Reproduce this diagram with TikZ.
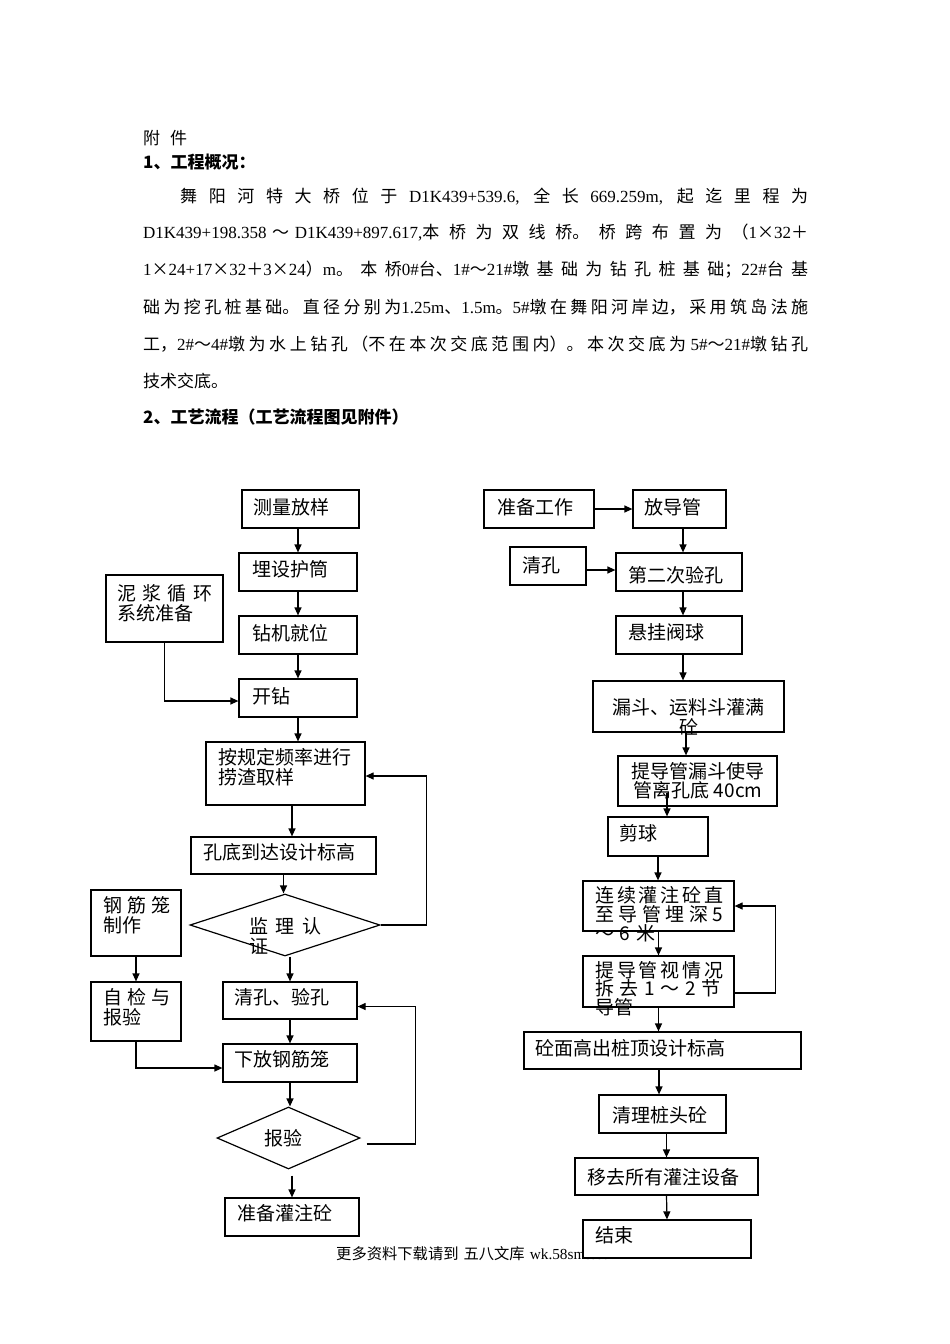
\documentclass[tikz,border=0pt]{standalone}
\usepackage{fontspec}
\setmainfont{Noto Sans CJK SC}
\newfontfamily\serifnt{Liberation Serif}
\usetikzlibrary{arrows.meta,shapes.geometric,calc}
\XeTeXlinebreaklocale "zh"
\XeTeXlinebreakskip=0pt plus 10pt
\newcommand{\lat}[1]{{\serifnt\fontsize{17}{17}\selectfont #1}}
\newcommand{\jl}[2]{\parbox{#1}{\tolerance=9999\parfillskip=0pt\relax #2}}
\begin{document}
\begin{tikzpicture}[x=1pt,y=-1pt,
 box/.style={draw, line width=1.2pt, fill=white, inner sep=0pt, rectangle},
 dbox/.style={draw, line width=1.2pt, fill=white, inner sep=0pt, diamond},
 arr/.style={line width=1.2pt, -{Triangle[length=8pt,width=7pt]}},
 txt/.style={inner sep=0pt, anchor=west, align=left, font=\fontsize{19}{20}\selectfont},
 ctxt/.style={inner sep=0pt, anchor=center, align=center, font=\fontsize{19}{20}\selectfont},
 para/.style={inner sep=0pt, anchor=west, font=\fontsize{17}{17}\selectfont},
 head/.style={inner sep=0pt, anchor=west, font=\fontsize{17}{17}\selectfont\bfseries}
]
\fill[white] (0,0) rectangle (950,1344);
\path[use as bounding box] (0,0) rectangle (950,1344);

% ---------- header text ----------
\node[para] (p0) at (143,138) {\makebox[44pt][s]{附 件}};
\node[head] (p1) at (143,162) {1、工程概况：};
\node[para] (p2) at (180,197) {\jl{628pt}{舞 阳 河 特 大 桥 位 于 \lat{D1K439+539.6,} 全 长 \lat{669.259m,} 起 迄 里 程 为}};
\node[para] (p3) at (143,233) {\jl{665pt}{\lat{D1K439+198.358} ～ \lat{D1K439+897.617,}本桥为双线桥。桥跨布置为（\lat{1}×\lat{32}＋}};
\node[para] (p4) at (143,270) {\jl{665pt}{\lat{1}×\lat{24+17}×\lat{32}＋\lat{3}×\lat{24}）\lat{m}。本桥\lat{0\#}台、\lat{1\#}～\lat{21\#}墩基础为钻孔桩基础；\lat{22\#}台基}};
\node[para] (p5) at (143,307) {\jl{665pt}{础为挖孔桩基础。直径分别为\lat{1.25m}、\lat{1.5m}。\lat{5\#}墩在舞阳河岸边，采用筑岛法施}};
\node[para] (p6) at (143,344) {\jl{665pt}{工，\lat{2\#}～\lat{4\#}墩为水上钻孔（不在本次交底范围内）。本次交底为 \lat{5\#}～\lat{21\#}墩钻孔}};
\node[para] (p7) at (143,381) {技术交底。};
\node[head] (p8) at (143,417) {2、工艺流程（工艺流程图见附件）};

% ---------- footer (partly covered by the last box) ----------
\node[inner sep=0pt, anchor=west, font=\fontsize{15.3}{16}\selectfont] (foot) at (336,1253.5)
  {更多资料下载请到\hspace{5pt}五八文库\hspace{5pt}{\serifnt wk.58sms.com}};

% ---------- left column boxes ----------
\node[box, minimum width=117pt, minimum height=38pt] (L1) at (300.5,509) {};
\node[box, minimum width=118pt, minimum height=38pt] (L2) at (298,572) {};
\node[box, minimum width=118pt, minimum height=38pt] (L3) at (298,635) {};
\node[box, minimum width=118pt, minimum height=38pt] (L4) at (298,698) {};
\node[box, minimum width=117pt, minimum height=67pt] (LM) at (164.5,608.5) {};
\node[box, minimum width=159pt, minimum height=63pt] (L5) at (285.5,773.5) {};
\node[box, minimum width=185pt, minimum height=37pt] (L6) at (283.5,855.5) {};
\node[dbox, minimum width=190pt, minimum height=62pt] (D1) at (285,925) {};
\node[box, minimum width=90pt, minimum height=66pt] (LG) at (136,923) {};
\node[box, minimum width=90pt, minimum height=59pt] (LZ) at (136,1011.5) {};
\node[box, minimum width=134pt, minimum height=37pt] (L7) at (290,1000.5) {};
\node[box, minimum width=134pt, minimum height=38pt] (L8) at (290,1063) {};
\node[dbox, minimum width=143pt, minimum height=62pt] (D2) at (288.5,1138) {};
\node[box, minimum width=134pt, minimum height=38pt] (L9) at (292,1217) {};

% ---------- right column boxes ----------
\node[box, minimum width=110pt, minimum height=38pt] (R1) at (539,509) {};
\node[box, minimum width=93pt, minimum height=38pt] (R2) at (679.5,509) {};
\node[box, minimum width=76pt, minimum height=38pt] (RQ) at (548,566) {};
\node[box, minimum width=126pt, minimum height=38pt] (R3) at (679,572) {};
\node[box, minimum width=126pt, minimum height=38pt] (R4) at (679,635) {};
\node[box, minimum width=191pt, minimum height=51pt] (R5) at (688.5,706.5) {};
\node[box, minimum width=159pt, minimum height=50pt] (R6) at (697.5,781) {};
\node[box, minimum width=100pt, minimum height=39pt] (R7) at (658,836.5) {};
\node[box, minimum width=151pt, minimum height=50pt] (R8) at (658.5,906) {};
\node[box, minimum width=151pt, minimum height=51pt] (R9) at (658.5,981.5) {};
\node[box, minimum width=277pt, minimum height=37pt] (R10) at (662.5,1050.5) {};
\node[box, minimum width=127pt, minimum height=38pt] (R11) at (662.5,1114) {};
\node[box, minimum width=183pt, minimum height=37pt] (R12) at (666.5,1176.5) {};
\node[box, minimum width=168pt, minimum height=38pt] (R13) at (667,1239) {};

% ---------- left connectors ----------
\draw[arr] (L1.south -| L2.north) -- (L2.north);
\draw[arr] (L2.south) -- (L3.north);
\draw[arr] (L3.south) -- (L4.north);
\draw[arr] (LM.south) |- ($(L4.west)+(0,3)$);
\draw[arr] (L4.south) -- (L4.south |- L5.north);
\draw[arr] ($(L5.south)+(6.5,0)$) -- ($(L5.south |- L6.north)+(6.5,0)$);
\draw[arr] (L6.south) -- (L6.south |- D1.north);
\draw[arr] (D1.east) -- ++(45.5,0) |- ($(L5.east)+(0,2.5)$);
\draw[arr] (L7.north |- D1.south) -- (L7.north);
\draw[arr] (LG.south) -- (LZ.north);
\draw[arr] (LZ.south) |- ($(L8.west)+(0,5)$);
\draw[arr] (L7.south) -- (L8.north);
\draw[arr] (L8.south) -- (L8.south |- D2.north);
\draw[arr] ($(D2.east)+(6,6)$) -- ++(49,0) |- ($(L7.east)+(0,6)$);
\draw[arr] ($(L9.north |- D2.south)+(0,6)$) -- (L9.north);

% ---------- right connectors ----------
\draw[arr] (R1.east) -- (R2.west);
\draw[arr] ($(R2.south)+(3.5,0)$) -- ($(R2.south |- R3.north)+(3.5,0)$);
\draw[arr] ($(RQ.east)+(0,4)$) -- ($(RQ.east -| R3.west)+(0,4)$);
\draw[arr] ($(R3.south)+(4,0)$) -- ($(R3.south |- R4.north)+(4,0)$);
\draw[arr] ($(R4.south)+(4,0)$) -- ($(R4.south |- R5.north)+(4,0)$);
\draw[arr] ($(R5.south)+(-2.5,0)$) -- ($(R5.south |- R6.north)+(-2.5,0)$);
\draw[arr, shorten <=-14pt] ($(R7.north |- R6.south)+(9,0)$) -- ($(R7.north)+(9,0)$);
\draw[arr] (R7.south) -- (R7.south |- R8.north);
\draw[arr] (R8.south) -- (R9.north);
\draw[arr] ($(R9.east)+(0,11.5)$) -- ++(41,0) |- (R8.east);
\draw[arr] (R9.south) -- (R9.south |- R10.north);
\draw[arr] ($(R10.south)+(-3.5,0)$) -- ($(R10.south |- R11.north)+(-3.5,0)$);
\draw[arr] (R12.north |- R11.south) -- (R12.north);
\draw[arr] (R12.south) -- (R13.north);

% ---------- left texts ----------
\node[txt] (tL1) at (253,507) {测量放样};
\node[txt] (tL2) at (252,569) {埋设护筒};
\node[txt] (tL3) at (252,633) {钻机就位};
\node[txt] (tL4) at (252,696) {开钻};
\node[txt] (tLM) at (117,603) {\makebox[95pt][s]{泥 浆 循 环}\\系统准备};
\node[txt] (tL5) at (218,767) {按规定频率进行\\捞渣取样};
\node[txt] (tL6) at (203,852) {孔底到达设计标高};
\node[txt] (tD1) at (249,936) {\makebox[72pt][s]{监 理 认}\\证};
\node[txt] (tLG) at (103,915.5) {\makebox[67pt][s]{钢 筋 笼}\\制作};
\node[txt] (tLZ) at (103,1007) {\makebox[67pt][s]{自 检 与}\\报验};
\node[txt] (tL7) at (234,997) {清孔、验孔};
\node[txt] (tL8) at (234,1059) {下放钢筋笼};
\node[txt] (tD2) at (264,1138) {报验};
\node[txt] (tL9) at (237,1213) {准备灌注砼};

% ---------- right texts ----------
\node[txt] (tR1) at (497,507) {准备工作};
\node[txt] (tR2) at (644,507) {放导管};
\node[txt] (tRQ) at (522,565) {清孔};
\node[txt] (tR3) at (628,575) {第二次验孔};
\node[txt] (tR4) at (628,632) {悬挂阀球};
\node[ctxt] (tR5) at (688.5,717) {漏斗、运料斗灌满\\砼};
\node[ctxt, font=\fontsize{19}{19}\selectfont] (tR6) at (698,780.5) {提导管漏斗使导\\管离孔底 40cm};
\node[txt] (tR7) at (619,833) {剪球};
\node[txt, font=\fontsize{19}{19}\selectfont] (tR8) at (595,914)
  {\makebox[128pt][s]{连 续 灌 注 砼 直}\\\makebox[128pt][s]{至 导 管 埋 深 5}\\\makebox[60pt][s]{～ 6 米}};
\node[txt, font=\fontsize{19}{18.5}\selectfont] (tR9) at (595,988.5)
  {\makebox[128pt][s]{提 导 管 视 情 况}\\\makebox[125pt][s]{拆 去 1 ～ 2 节}\\导管};
\node[txt] (tR10) at (535,1048) {砼面高出桩顶设计标高};
\node[txt] (tR11) at (612,1115) {清理桩头砼};
\node[txt] (tR12) at (587,1177) {移去所有灌注设备};
\node[txt] (tR13) at (595,1235) {结束};
\end{tikzpicture}
\end{document}
